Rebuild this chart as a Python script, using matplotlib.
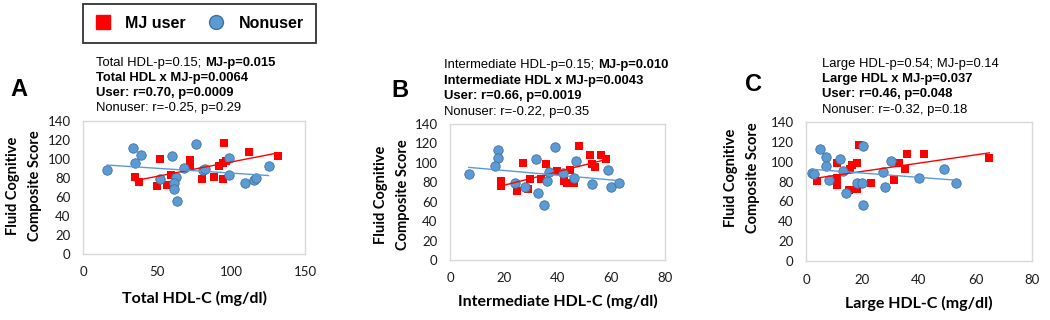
import numpy as np
import matplotlib
matplotlib.use("Agg")
import matplotlib.pyplot as plt
from matplotlib.lines import Line2D

W, H = 1050, 320

# ---- data ----
a_user_x = [34.8, 38.0, 49.7, 52.0, 56.6, 59.3, 72.6, 72.6, 80.7, 88.5, 91.6, 94.4, 94.5, 95.5, 96.6, 112.0, 132.0]
a_user_y = [81, 76, 71.4, 99.7, 73, 83, 99.4, 94, 78.8, 81.5, 92.4, 79, 96, 117, 98, 107.8, 103.6]
a_non_x = [16.2, 33.9, 38.9, 35.0, 52.0, 60.0, 62.7, 61.8, 61.8, 63.6, 68.0, 76.4, 81.0, 82.7, 98.6, 98.6, 109.4, 115.7, 117.0, 125.4]
a_non_y = [88.6, 112, 104, 96, 79, 103, 81.5, 74.5, 68.6, 56, 91, 115.5, 88.6, 90, 101, 83.6, 75, 78.4, 79.5, 92.4]

b_user_x = [19, 19, 24.8, 27, 28.9, 29.9, 33.7, 35.8, 39.9, 42.6, 43.7, 46, 44.8, 48, 52, 53, 54, 56, 58]
b_user_y = [81, 76.5, 71.4, 99.5, 73, 83.4, 83.4, 99, 92, 81, 79, 79, 93, 117, 108, 99, 96, 108, 104]
b_non_x = [7, 17.9, 17.9, 16.9, 24, 27.9, 32, 32.8, 34.9, 36, 37, 39, 42, 46, 47, 53, 58.9, 60, 63]
b_non_y = [88.9, 113, 104.5, 96.6, 79, 74.8, 103.6, 69, 56.6, 81.6, 90.6, 116, 89.6, 84.4, 101.5, 78.6, 93, 74.8, 79]

c_user_x = [4, 11.1, 11.1, 11.1, 15.3, 15.6, 16.2, 17.9, 18.2, 18.9, 22.9, 31.2, 32.9, 35, 35.9, 41.9, 64.9]
c_user_y = [81, 99, 83.8, 76.4, 71.4, 92.5, 96.5, 99, 72.4, 117.3, 79, 81.4, 99, 92.5, 108, 108, 104]
c_non_x = [2, 3, 5.1, 7.1, 7.1, 8, 12, 13.1, 14.2, 18.2, 19.9, 20, 20, 27.1, 28.1, 30, 40.1, 49, 53.1]
c_non_y = [88.8, 88, 112.9, 104.5, 96, 81.4, 103, 90.8, 68.7, 78.7, 78.7, 116, 56, 89.8, 74.4, 101, 83.8, 92.5, 78.4]

panel_letters = ["A", "B", "C"]
x_labels = ["Total HDL-C (mg/dl)", "Intermediate HDL-C (mg/dl)", "Large HDL-C (mg/dl)"]
x_max = [150, 80, 80]
x_step = [50, 20, 20]
y_label = "Fluid Cognitive\nComposite Score"

# (regular part, bold part) for first line, then bold lines, then regular last line
stat_line1 = [("Total HDL-p=0.15; ", "MJ-p=0.015"),
              ("Intermediate HDL-p=0.15; ", "MJ-p=0.010"),
              ("Large HDL-p=0.54; MJ-p=0.14", "")]
stat_line2 = ["Total HDL x MJ-p=0.0064", "Intermediate HDL x MJ-p=0.0043", "Large HDL x MJ-p=0.037"]
stat_line3 = ["User: r=0.70, p=0.0009", "User: r=0.66, p=0.0019", "User: r=0.46, p=0.048"]
stat_line4 = ["Nonuser: r=-0.25, p=0.29", "Nonuser: r=-0.22, p=0.35", "Nonuser: r=-0.32, p=0.18"]

# ---- layout in pixels ----
axes_px = [(83, 121, 305, 254), (450, 124, 665, 260), (806, 122, 1032, 261)]
text_x = [96, 444, 822]
text_base = [(66, 81, 96, 111), (68, 84, 99, 115), (67, 82, 97, 113)]
letter_pos = [(10, 96), (391, 97), (745, 91)]
ylab_pos = [(24, 186), (392, 195), (742, 178)]
xlab_y = [298, 301, 303]

RED = "#FF0000"
BLUE = "#5B9BD5"
BLUE_EDGE = "#41719C"
TICK_FONT = "Lato"
TEXT_FONT = "Liberation Sans"


def fx(x):
    return x / W


def fy(y):
    return 1 - y / H


fig = plt.figure(figsize=(W / 100, H / 100), dpi=100)

datasets = [(a_user_x, a_user_y, a_non_x, a_non_y),
            (b_user_x, b_user_y, b_non_x, b_non_y),
            (c_user_x, c_user_y, c_non_x, c_non_y)]

for i, (ux, uy, nx, ny) in enumerate(datasets):
    l, t, r, b = axes_px[i]
    ax = fig.add_axes([fx(l), fy(b), (r - l) / W, (b - t) / H])
    ax.set_xlim(0, x_max[i])
    ax.set_ylim(0, 140)
    ax.set_xticks(np.arange(0, x_max[i] + 1, x_step[i]))
    ax.set_yticks(np.arange(0, 141, 20))
    for s in ax.spines.values():
        s.set_color("#D9D9D9")
        s.set_linewidth(1.0)
    ax.tick_params(length=0, labelsize=9.5, colors="#1a1a1a")
    ax.tick_params(axis="y", pad=9)
    ax.tick_params(axis="x", pad=9)
    for lab in ax.get_xticklabels() + ax.get_yticklabels():
        lab.set_fontfamily(TICK_FONT)

    ax.scatter(ux, uy, marker="s", s=38, color=RED, linewidths=0, zorder=2)
    ax.scatter(nx, ny, marker="o", s=46, color=BLUE, edgecolors=BLUE_EDGE, linewidths=0.6, zorder=3)

    # linear trendlines over each group's x range
    for xs, ys, col in [(ux, uy, RED), (nx, ny, BLUE)]:
        k, c0 = np.polyfit(xs, ys, 1)
        xx = np.array([min(xs), max(xs)])
        ax.plot(xx, k * xx + c0, color=col, lw=1.0, zorder=4)

    # stats text above the panel
    b1, b2, b3, b4 = text_base[i]
    reg, bold = stat_line1[i]
    t1 = fig.text(fx(text_x[i]), fy(b1), reg, fontsize=9.4, family=TEXT_FONT, va="baseline")
    if bold:
        ax.annotate(bold, xy=(1, 0), xycoords=t1, va="bottom", ha="left",
                    fontsize=9.4, family=TEXT_FONT, fontweight="bold")
    fig.text(fx(text_x[i]), fy(b2), stat_line2[i], fontsize=9.4, family=TEXT_FONT,
             fontweight="bold", va="baseline")
    fig.text(fx(text_x[i]), fy(b3), stat_line3[i], fontsize=9.4, family=TEXT_FONT,
             fontweight="bold", va="baseline")
    fig.text(fx(text_x[i]), fy(b4), stat_line4[i], fontsize=9.4, family=TEXT_FONT, va="baseline")

    fig.text(fx(letter_pos[i][0]), fy(letter_pos[i][1]), panel_letters[i], fontsize=17,
             family=TEXT_FONT, fontweight="bold", va="baseline", ha="left")

    fig.text(fx(ylab_pos[i][0]), fy(ylab_pos[i][1]), y_label, rotation=90, ha="center",
             va="center", multialignment="center", fontsize=10.5, family=TICK_FONT,
             fontweight="bold", linespacing=1.75)
    fig.text(fx((l + r) / 2), fy(xlab_y[i]), x_labels[i], ha="center", va="center",
             fontsize=11.5, family=TICK_FONT, fontweight="bold")

handles = [Line2D([], [], marker="s", color=RED, linestyle="none", markersize=10),
           Line2D([], [], marker="o", color=BLUE, markeredgecolor=BLUE_EDGE,
                  linestyle="none", markersize=10)]
leg = fig.legend(handles, ["MJ user", "Nonuser"], loc="upper left",
                 bbox_to_anchor=(fx(83), fy(4)), ncol=2, frameon=True, fancybox=False,
                 borderaxespad=0, borderpad=0.75, handlelength=1.0, handletextpad=0.9,
                 columnspacing=1.4, prop={"family": TEXT_FONT, "weight": "bold", "size": 11.5})
leg.get_frame().set_edgecolor("black")
leg.get_frame().set_linewidth(1.3)

fig.savefig("out.png", dpi=100)
